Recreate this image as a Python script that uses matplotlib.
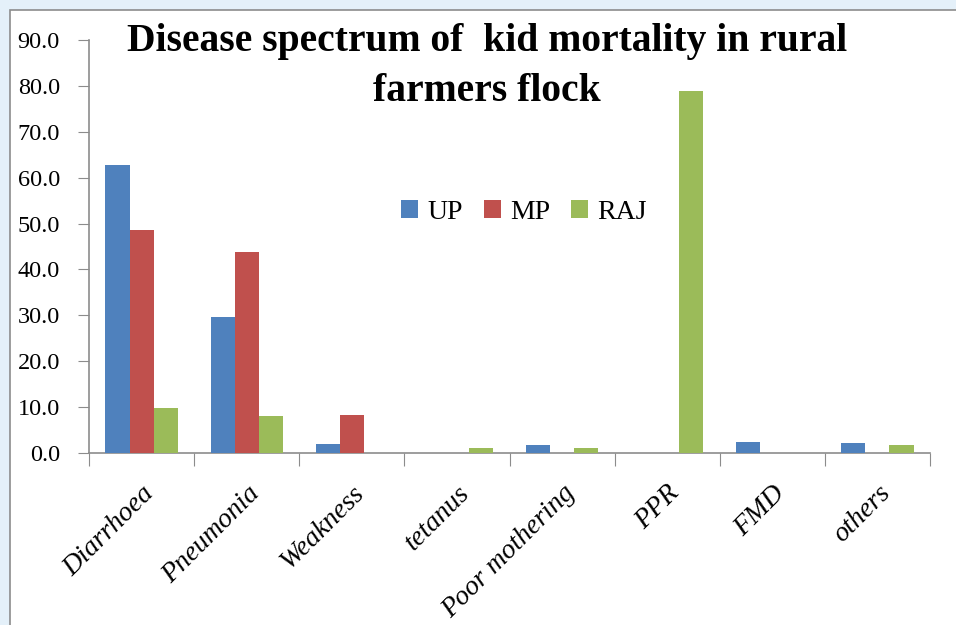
import numpy as np
import matplotlib.pyplot as plt
from matplotlib.patches import Rectangle

plt.rcParams['font.family'] = ['Liberation Serif', 'DejaVu Serif']

# kid mortality (%) by cause, per state
causes = ['Diarrhoea', 'Pneumonia', 'Weakness', 'tetanus', 'Poor mothering',
          'PPR', 'FMD', 'others']
up = [62.8, 29.6, 2.0, 0.0, 1.8, 0.0, 2.4, 2.2]
mp = [48.6, 43.8, 8.3, 0.0, 0.0, 0.0, 0.0, 0.0]
raj = [9.8, 8.1, 0.0, 1.1, 1.1, 78.9, 0.0, 1.7]
yticks = np.arange(0, 91, 10)

fig = plt.figure(figsize=(9.56, 6.25), dpi=100)
fig.patch.set_facecolor('#e4f0f9')
# white chart panel with grey frame
fig.patches.append(Rectangle((10 / 956, -0.01), 1.0, 1 - 10 / 625 + 0.01,
                             transform=fig.transFigure, facecolor='white',
                             edgecolor='#8c8c8c', linewidth=1.2, zorder=-5))

ax = fig.add_axes([89 / 956, 1 - 453 / 625, (930 - 89) / 956, (453 - 40) / 625])
ax.set_facecolor('none')

x = np.arange(len(causes))
w = 0.229
ax.bar(x - w, up, w, color='#4f81bd', label='UP', zorder=3)
ax.bar(x, mp, w, color='#c0504d', label='MP', zorder=3)
ax.bar(x + w, raj, w, color='#9bbb59', label='RAJ', zorder=3)

ax.set_xlim(-0.5, len(causes) - 0.5)
ax.set_ylim(0, 90)
ax.set_yticks(yticks)
ax.set_yticklabels(['%.1f' % v for v in yticks], fontsize=17.5)

# ticks sit on category boundaries, labels at the centres
ax.set_xticks(np.arange(-0.5, len(causes), 1.0))
ax.set_xticklabels([])
ax.set_xticks(x, minor=True)
ax.set_xticklabels(causes, minor=True, rotation=45, ha='right', va='top',
                   rotation_mode='anchor', fontsize=20, style='italic')
ax.tick_params(axis='x', which='minor', length=0, pad=20)
ax.tick_params(axis='x', which='major', length=9, color='#8c8c8c', direction='out')
ax.tick_params(axis='y', length=8, color='#8c8c8c', direction='out', pad=13)

for s in ['top', 'right']:
    ax.spines[s].set_visible(False)
for s in ['left', 'bottom']:
    ax.spines[s].set_color('#8c8c8c')
    ax.spines[s].set_linewidth(1.2)

fig.text(0.509, 0.933, 'Disease spectrum of  kid mortality in rural',
         ha='center', va='center', fontsize=28.5, fontweight='bold')
fig.text(0.509, 0.853, 'farmers flock', ha='center', va='center',
         fontsize=28.5, fontweight='bold')

ax.legend(loc='center', bbox_to_anchor=(0.517, 0.583), ncol=3, frameon=False,
          fontsize=20, handlelength=0.62, handleheight=0.62,
          handletextpad=0.33, columnspacing=0.75)

fig.savefig('out.png', dpi=100, facecolor=fig.get_facecolor())
